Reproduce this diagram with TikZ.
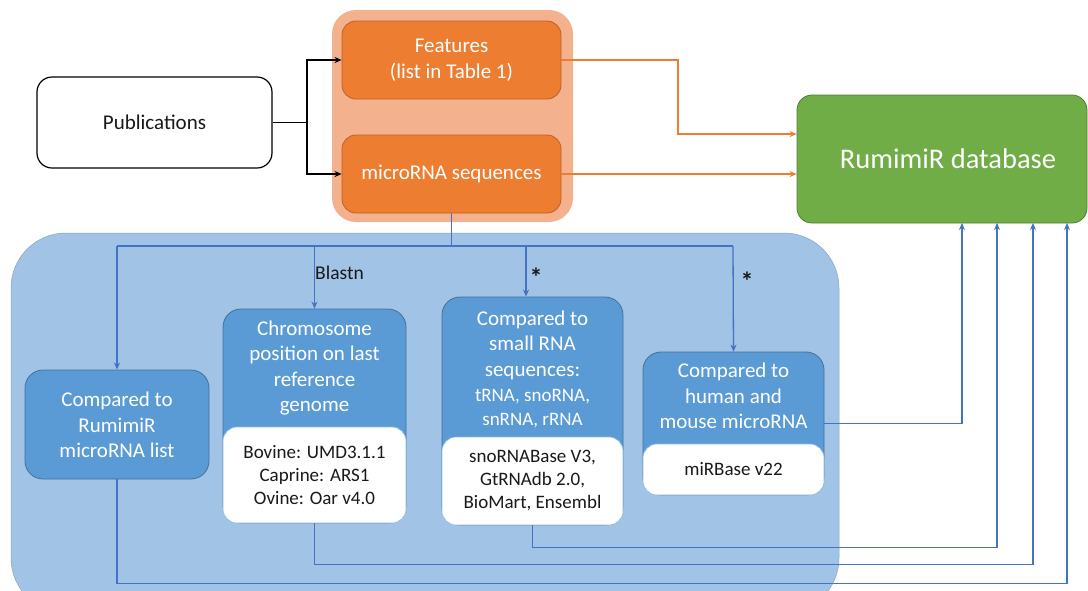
\documentclass[tikz,border=0pt]{standalone}
\usepackage{fontspec}
\setmainfont{Carlito}
\usetikzlibrary{arrows.meta}
\definecolor{obg}{RGB}{244,177,142}
\definecolor{obox}{RGB}{237,125,49}
\definecolor{oborder}{RGB}{190,95,35}
\definecolor{gbox}{RGB}{112,173,71}
\definecolor{gborder}{RGB}{80,126,50}
\definecolor{bbg}{RGB}{160,195,230}
\definecolor{bbox}{RGB}{91,155,213}
\definecolor{bborder}{RGB}{65,113,156}
\definecolor{bline}{RGB}{68,114,196}
\definecolor{txt}{RGB}{25,25,25}
\tikzset{
  x=1pt, y=-1pt,
  bigfont/.style={font=\fontsize{21}{25.5}\selectfont},
  smallfont/.style={font=\fontsize{19}{23}\selectfont},
  orangebox/.style={fill=obox, draw=oborder, line width=0.8pt, rounded corners=14pt, inner sep=0pt, text=white, bigfont, align=center},
  bluebox/.style={fill=bbox, draw=bborder, line width=0.8pt, rounded corners=18pt, inner sep=0pt},
  whitepart/.style={fill=white, draw=bbox!70!white, line width=0.6pt, rounded corners=14pt, inner sep=0pt, text=txt, smallfont, align=center},
  hdr/.style={text=white, bigfont, align=center, inner sep=0pt},
  blk/.style={draw=black, line width=1.3pt, -{Stealth[length=7pt,width=6pt]}},
  oline/.style={draw=obox, line width=1.3pt},
  oarrow/.style={oline, -{Stealth[length=7pt,width=6pt]}},
  bl/.style={draw=bline, line width=1.3pt},
  barrow/.style={bl, -{Stealth[length=7pt,width=6pt]}},
  astlabel/.style={font=\fontsize{26}{26}\selectfont\bfseries, text=txt, inner sep=0pt},
}
\begin{document}
\begin{tikzpicture}
\useasboundingbox (0,0) rectangle (1088,590);
\fill[white] (0,0) rectangle (1088,590);

% backgrounds
\node[fill=obg, rounded corners=24pt, minimum width=241pt, minimum height=212pt, inner sep=0pt] (orbg) at (452.5,116) {};
\node[fill=bbg, draw=bbg!85!black, line width=0.5pt, rounded corners=55pt, minimum width=828pt, minimum height=380pt, inner sep=0pt] (blbg) at (425,423) {};

% top boxes
\node[draw=black, line width=1.2pt, fill=white, rounded corners=15pt, minimum width=235pt, minimum height=91pt, inner sep=0pt, text=txt, bigfont] (pub) at (154.5,122.5) {Publications};
\node[orangebox, minimum width=219pt, minimum height=78pt] (feat) at (451.5,60) {Features\\(list in Table 1)};
\node[orangebox, minimum width=219pt, minimum height=78pt] (micro) at (451.5,174) {microRNA sequences};
\node[fill=gbox, draw=gborder, line width=0.8pt, rounded corners=15pt, minimum width=290pt, minimum height=128pt, inner sep=0pt, text=white, font=\fontsize{28.5}{32}\selectfont] (db) at (942,159) {\hspace{12pt}RumimiR database};

% blue boxes
\node[bluebox, minimum width=184pt, minimum height=109pt] (rum) at (117,424.5) {};
\node[hdr] (rumt) at (117,425) {Compared to\\RumimiR\\microRNA list};

\node[bluebox, minimum width=183pt, minimum height=214pt] (chr) at (314.5,416) {};
\node[whitepart, minimum width=183pt, minimum height=96pt] (chrw) at (314.5,475) {Bovine: UMD3.1.1\\Caprine: ARS1\\Ovine: Oar v4.0};
\node[hdr] (chrt) at (314.5,368) {Chromosome\\position on last\\reference\\genome};

\node[bluebox, minimum width=181pt, minimum height=228pt] (srna) at (532.5,411) {};
\node[whitepart, minimum width=181pt, minimum height=88pt] (srnaw) at (532.5,481) {snoRNABase V3,\\GtRNAdb 2.0,\\BioMart, Ensembl};
\node[hdr] (srnat) at (532.5,345) {Compared to\\small RNA\\sequences:};
\node[hdr, font=\fontsize{19}{24}\selectfont] (srnat2) at (532.5,409) {tRNA, snoRNA,\\snRNA, rRNA};

\node[bluebox, minimum width=181pt, minimum height=143pt] (hum) at (733.5,423.5) {};
\node[whitepart, minimum width=181pt, minimum height=51pt] (humw) at (733.5,469.5) {miRBase v22};
\node[hdr] (humt) at (733.5,396) {Compared to\\human and\\mouse microRNA};

% black connectors
\coordinate (split) at (307,122.5);
\draw[line width=1.3pt] (pub.east) -- (split);
\draw[blk] (split) |- (feat.west);
\draw[blk] (split) |- (micro.west);

% orange connectors
\coordinate (oc) at (678,134);
\draw[oarrow] (feat.east) -| (oc) -- (oc -| db.west);
\draw[oarrow] (micro.east) -- (micro.east -| db.west);

% blue distribution
\coordinate (hl) at (117,246);
\coordinate (hr) at (733,246);
\coordinate (s1) at (526,246);
\draw[bl] (micro.south) -- (micro.south |- hl);
\draw[bl] (hl) -- (hr);
\draw[barrow] (hl) -- (rum.north);
\draw[barrow] (chr.north |- hl) -- (chr.north);
\draw[barrow] (s1) -- (s1 |- srna.north);
\draw[barrow] (hr) -- (hum.north);

\node[font=\fontsize{19.5}{22}\selectfont, text=txt, anchor=west, inner sep=0pt] (blastn) at (315,273) {Blastn};
\node[astlabel] (ast1) at (536,277) {*};
\node[astlabel] (ast2) at (747,281) {*};

% returns to database
\coordinate (r1) at (962,223);
\coordinate (r2) at (997,223);
\coordinate (r3) at (1033,223);
\coordinate (r4) at (1067,223);
\draw[barrow] (hum.east) -| (r1);
\draw[barrow] (srna.south) -- ++(0,22) -| (r2);
\draw[barrow] (chr.south) -- ++(0,41) -| (r3);
\draw[barrow] (rum.south) -- ++(0,104) -| (r4);
\end{tikzpicture}
\end{document}
